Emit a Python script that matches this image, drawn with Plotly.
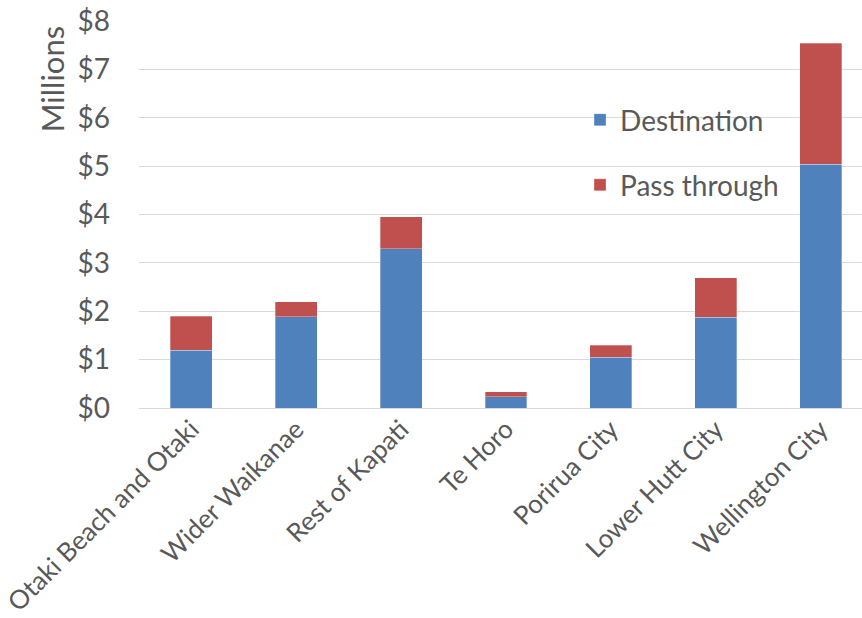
import plotly.graph_objects as go

categories = ["Otaki Beach and Otaki", "Wider Waikanae", "Rest of Kapati", "Te Horo",
              "Porirua City", "Lower Hutt City", "Wellington City"]
destination = [1.19, 1.89, 3.29, 0.23, 1.05, 1.88, 5.04]
pass_through = [0.71, 0.31, 0.66, 0.11, 0.25, 0.81, 2.50]
y_ticks = [0, 1, 2, 3, 4, 5, 6, 7, 8]

FONT = "Lato"
GRAY = "#595959"

fig = go.Figure()
fig.add_trace(go.Bar(x=categories, y=destination, name="Destination", showlegend=True,
                     marker=dict(color="#4F81BD", line=dict(color="rgba(255,255,255,0.6)", width=0.5)),
                     width=0.4, legend="legend"))
fig.add_trace(go.Bar(x=categories, y=pass_through, name="Pass through", showlegend=True,
                     marker=dict(color="#C0504D", line=dict(color="rgba(255,255,255,0.6)", width=0.5)),
                     width=0.4, legend="legend2"))

fig.update_layout(
    width=862, height=618,
    barmode="stack",
    showlegend=True,
    plot_bgcolor="white", paper_bgcolor="white",
    margin=dict(l=139, r=0, t=21, b=210),
    font=dict(family=FONT, color=GRAY),
    xaxis=dict(range=[-0.5, 6.395], tickangle=-45, tickfont=dict(size=26, color=GRAY),
               showgrid=False, showline=False, ticks=""),
    yaxis=dict(range=[0, 8], tickvals=y_ticks, ticktext=[f"${v}" for v in y_ticks],
               tickfont=dict(size=28, color=GRAY), showgrid=True, gridcolor="#D9D9D9",
               gridwidth=1.3, zeroline=True, zerolinecolor="#D9D9D9", zerolinewidth=1.3,
               showline=False, ticks="", ticklabelstandoff=28),
    legend=dict(x=0.61, y=0.744, xanchor="left", yanchor="middle", visible=True,
                font=dict(size=28, color=GRAY), bgcolor="rgba(0,0,0,0)"),
    legend2=dict(x=0.61, y=0.576, xanchor="left", yanchor="middle", visible=True,
                 font=dict(size=28, color=GRAY), bgcolor="rgba(0,0,0,0)"),
    annotations=[dict(text="Millions", xref="paper", yref="paper", x=-0.12, y=(408 - 79) / 387,
                      xanchor="center", yanchor="middle", textangle=-90, showarrow=False,
                      font=dict(size=31, color=GRAY, family=FONT))],
)

fig.write_html("out.html")
